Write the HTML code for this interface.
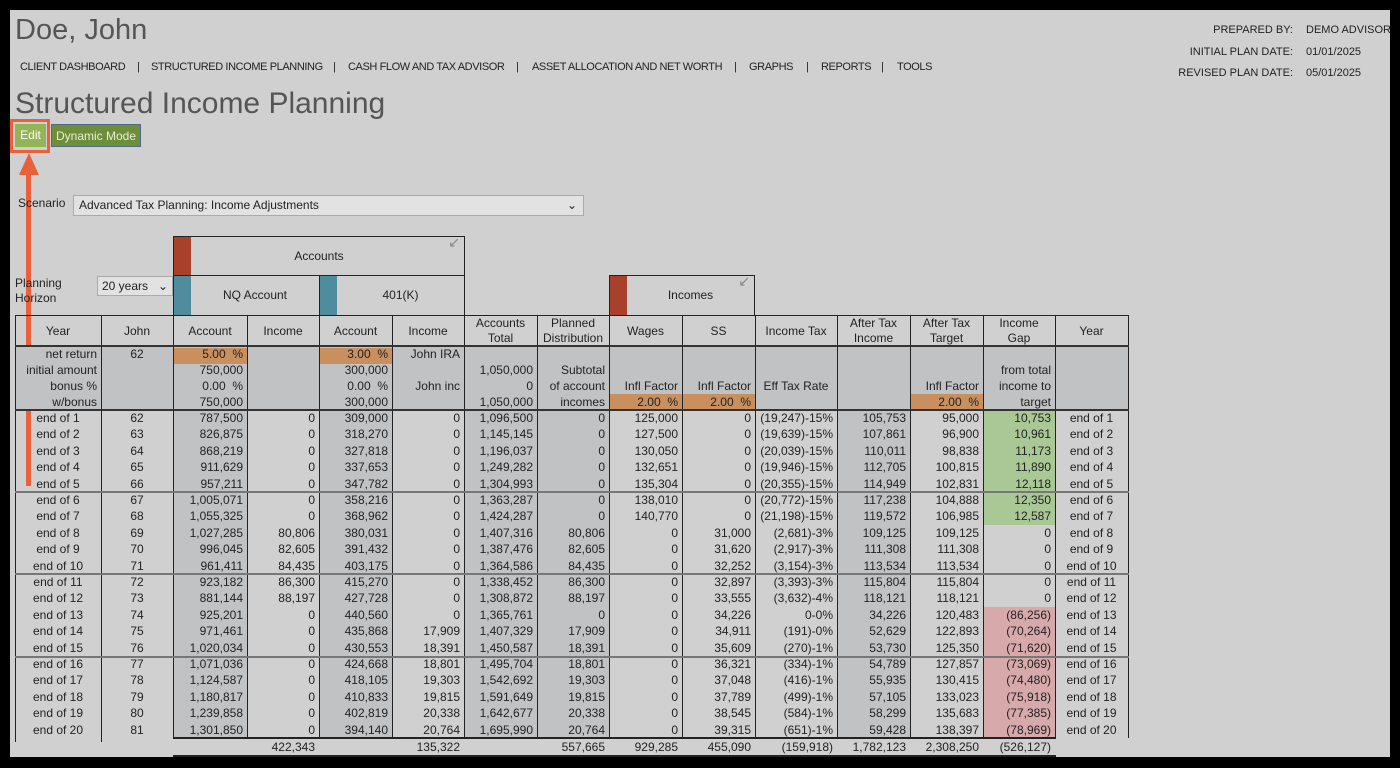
<!DOCTYPE html>
<html><head><meta charset="utf-8">
<style>
*{margin:0;padding:0;box-sizing:border-box}
body{width:1400px;height:768px;background:#000;position:relative;overflow:hidden;font-family:"Liberation Sans",sans-serif;color:#222}
#p{position:absolute;left:10px;top:10px;width:1380px;height:747px;background:#d0d0d0}
.a{position:absolute;white-space:nowrap}
.c{position:absolute;font-size:12px;line-height:16px;white-space:nowrap;overflow:hidden}
.nav{font-size:11px;top:61px;letter-spacing:-0.4px}
</style></head><body>
<div id="p"></div>
<div class="a" style="left:15px;top:14px;font-size:29px;color:#555">Doe, John</div>
<div class="a nav" style="left:20px">CLIENT DASHBOARD</div>
<div class="a nav" style="left:137px">|</div>
<div class="a nav" style="left:151px">STRUCTURED INCOME PLANNING</div>
<div class="a nav" style="left:333px">|</div>
<div class="a nav" style="left:348px">CASH FLOW AND TAX ADVISOR</div>
<div class="a nav" style="left:516px">|</div>
<div class="a nav" style="left:532px">ASSET ALLOCATION AND NET WORTH</div>
<div class="a nav" style="left:734px">|</div>
<div class="a nav" style="left:749px">GRAPHS</div>
<div class="a nav" style="left:806px">|</div>
<div class="a nav" style="left:821px">REPORTS</div>
<div class="a nav" style="left:881px">|</div>
<div class="a nav" style="left:897px">TOOLS</div>
<div class="a" style="right:107px;top:20px;font-size:11px;text-align:right;line-height:21.5px">PREPARED BY:<br>INITIAL PLAN DATE:<br>REVISED PLAN DATE:</div>
<div class="a" style="left:1306px;top:20px;font-size:11px;line-height:21.5px">DEMO ADVISOR<br>01/01/2025<br>05/01/2025</div>
<div class="a" style="left:15px;top:87px;font-size:30px;color:#555">Structured Income Planning</div>
<div class="a" style="left:10px;top:119px;width:40px;height:34px;border:3px solid #e8603c"></div>
<div class="a" style="left:15px;top:124px;width:31px;height:23px;background:#93b557;color:#fff;font-size:12px;line-height:23px;text-align:center">Edit</div>
<div class="a" style="left:51px;top:124px;width:90px;height:23px;background:#6f8e3a;color:#e8eed8;font-size:12px;line-height:23px;text-align:center;border:1px solid #4e6a8a">Dynamic Mode</div>
<div class="a" style="left:26px;top:170px;width:5px;height:316px;background:#e8603c"></div>
<div class="a" style="left:19px;top:153px;width:0;height:0;border-left:10px solid transparent;border-right:10px solid transparent;border-bottom:22px solid #e8603c"></div>
<div class="a" style="left:18px;top:196px;font-size:12px">Scenario</div>
<div class="a" style="left:73px;top:195px;width:511px;height:21px;background:#e2e2e2;border:1px solid #aaa;font-size:12px;line-height:19px;padding-left:5px">Advanced Tax Planning: Income Adjustments<span style="position:absolute;right:6px">&#8964;</span></div>
<div class="a" style="left:15px;top:276px;font-size:12px;line-height:15px">Planning<br>Horizon</div>
<div class="a" style="left:97px;top:276px;width:76px;height:20px;background:#e2e2e2;border:1px solid #aaa;font-size:12px;line-height:18px;padding-left:4px">20 years<span style="position:absolute;right:4px">&#8964;</span></div>
<div class="a" style="left:173px;top:236px;width:292px;height:40px;border:1px solid #222;font-size:12px;line-height:38px;text-align:center"><span style="position:absolute;left:0;top:0;width:17px;height:38px;background:#a8402c"></span>Accounts<span style="position:absolute;right:4px;top:-14px;color:#888;font-size:14px">&#8601;</span></div>
<div class="a" style="left:173px;top:275px;width:147px;height:41px;border:1px solid #222;font-size:12px;line-height:39px;text-align:center;padding-left:17px"><span style="position:absolute;left:0;top:0;width:17px;height:39px;background:#4e8c9e"></span>NQ Account</div>
<div class="a" style="left:319px;top:275px;width:146px;height:41px;border:1px solid #222;font-size:12px;line-height:39px;text-align:center;padding-left:17px"><span style="position:absolute;left:0;top:0;width:17px;height:39px;background:#4e8c9e"></span>401(K)</div>
<div class="a" style="left:609px;top:275px;width:146px;height:41px;border:1px solid #222;font-size:12px;line-height:39px;text-align:center;padding-left:17px"><span style="position:absolute;left:0;top:0;width:17px;height:39px;background:#a8402c"></span>Incomes<span style="position:absolute;right:4px;top:-14px;color:#888;font-size:14px">&#8601;</span></div>
<div id="g"></div>
<script>
var X=[15,101,173,247,319,392,464,537,609,682,755,837,910,983,1055,1128];
var g=document.getElementById('g'),h='';
function R(l,t,w,ht,bg){h+='<div class="a" style="left:'+l+'px;top:'+t+'px;width:'+w+'px;height:'+ht+'px;background:'+bg+'"></div>';}
function T(i,t,s,al,st){var w=X[i+1]-X[i];h+='<div class="c" style="left:'+X[i]+'px;top:'+t+'px;width:'+w+'px;text-align:'+(al||'right')+';padding:0 4px;'+(st||'')+'">'+s+'</div>';}
var SH='#c1c2c4';
R(15,346,1113,64,SH);
[2,4,6,7,11].forEach(function(i){R(X[i],410,X[i+1]-X[i],328,SH);});
[[2,348],[4,348],[8,394],[9,394],[12,394]].forEach(function(a){R(X[a[0]]+1,a[1],X[a[0]+1]-X[a[0]]-1,16,'#c98f5e');});
var Y0=410,RH=16.4;
for(var r=0;r<20;r++){var y=Y0+r*RH;var c=r<7?'#a9c895':(r>=12?'#d7a9aa':null);if(c)R(X[13]+1,y,X[14]-X[13]-1,RH+0.5,c);}
var hd=['Year','John','Account','Income','Account','Income','Accounts<br>Total','Planned<br>Distribution','Wages','SS','Income Tax','After Tax<br>Income','After Tax<br>Target','Income<br>Gap','Year'];
hd.forEach(function(s,i){var two=s.indexOf('<br>')>0;h+='<div class="c" style="left:'+X[i]+'px;top:'+(two?315:323)+'px;width:'+(X[i+1]-X[i])+'px;text-align:center;line-height:14.5px;padding-top:1px">'+s+'</div>';});
var py=346;
T(0,py,'net return');T(0,py+16,'initial amount');T(0,py+32,'bonus %');T(0,py+48,'w/bonus');
T(1,py,'62','center');
T(2,py,'5.00&nbsp;&nbsp;%');T(2,py+16,'750,000');T(2,py+32,'0.00&nbsp;&nbsp;%');T(2,py+48,'750,000');
T(4,py,'3.00&nbsp;&nbsp;%');T(4,py+16,'300,000');T(4,py+32,'0.00&nbsp;&nbsp;%');T(4,py+48,'300,000');
T(5,py,'John IRA');T(5,py+32,'John inc');
T(6,py+16,'1,050,000');T(6,py+32,'0');T(6,py+48,'1,050,000');
T(7,py+16,'Subtotal');T(7,py+32,'of account');T(7,py+48,'incomes');
T(8,py+32,'Infl Factor');T(8,py+48,'2.00&nbsp;&nbsp;%');T(9,py+32,'Infl Factor');T(9,py+48,'2.00&nbsp;&nbsp;%');
T(10,py+32,'Eff Tax Rate','center');T(12,py+32,'Infl Factor');T(12,py+48,'2.00&nbsp;&nbsp;%');
T(13,py+16,'from total');T(13,py+32,'income to');T(13,py+48,'target');
var D=[
"62|787,500|0|309,000|0|1,096,500|0|125,000|0|(19,247)-15%|105,753|95,000|10,753",
"63|826,875|0|318,270|0|1,145,145|0|127,500|0|(19,639)-15%|107,861|96,900|10,961",
"64|868,219|0|327,818|0|1,196,037|0|130,050|0|(20,039)-15%|110,011|98,838|11,173",
"65|911,629|0|337,653|0|1,249,282|0|132,651|0|(19,946)-15%|112,705|100,815|11,890",
"66|957,211|0|347,782|0|1,304,993|0|135,304|0|(20,355)-15%|114,949|102,831|12,118",
"67|1,005,071|0|358,216|0|1,363,287|0|138,010|0|(20,772)-15%|117,238|104,888|12,350",
"68|1,055,325|0|368,962|0|1,424,287|0|140,770|0|(21,198)-15%|119,572|106,985|12,587",
"69|1,027,285|80,806|380,031|0|1,407,316|80,806|0|31,000|(2,681)-3%|109,125|109,125|0",
"70|996,045|82,605|391,432|0|1,387,476|82,605|0|31,620|(2,917)-3%|111,308|111,308|0",
"71|961,411|84,435|403,175|0|1,364,586|84,435|0|32,252|(3,154)-3%|113,534|113,534|0",
"72|923,182|86,300|415,270|0|1,338,452|86,300|0|32,897|(3,393)-3%|115,804|115,804|0",
"73|881,144|88,197|427,728|0|1,308,872|88,197|0|33,555|(3,632)-4%|118,121|118,121|0",
"74|925,201|0|440,560|0|1,365,761|0|0|34,226|0-0%|34,226|120,483|(86,256)",
"75|971,461|0|435,868|17,909|1,407,329|17,909|0|34,911|(191)-0%|52,629|122,893|(70,264)",
"76|1,020,034|0|430,553|18,391|1,450,587|18,391|0|35,609|(270)-1%|53,730|125,350|(71,620)",
"77|1,071,036|0|424,668|18,801|1,495,704|18,801|0|36,321|(334)-1%|54,789|127,857|(73,069)",
"78|1,124,587|0|418,105|19,303|1,542,692|19,303|0|37,048|(416)-1%|55,935|130,415|(74,480)",
"79|1,180,817|0|410,833|19,815|1,591,649|19,815|0|37,789|(499)-1%|57,105|133,023|(75,918)",
"80|1,239,858|0|402,819|20,338|1,642,677|20,338|0|38,545|(584)-1%|58,299|135,683|(77,385)",
"81|1,301,850|0|394,140|20,764|1,695,990|20,764|0|39,315|(651)-1%|59,428|138,397|(78,969)"];
D.forEach(function(l,r){var y=Y0+r*RH;var v=l.split('|');T(0,y,'end of '+(r+1),'center');T(1,y,v[0],'center');
for(var i=1;i<v.length;i++)T(i+1,y,v[i]);T(14,y,'end of '+(r+1),'center');});
var tt={3:'422,343',5:'135,322',7:'557,665',8:'929,285',9:'455,090',10:'(159,918)',11:'1,782,123',12:'2,308,250',13:'(526,127)'};
for(var k in tt)T(+k,739,tt[k]);
X.forEach(function(x,i){var bot=(i==0||i==1)?742:738;R(x,315,1,bot-315,'#222');});
R(15,315,1114,1,'#222');R(15,345,1114,2,'#333');R(15,409,1114,2,'#333');
[491,573,656].forEach(function(y){R(15,y,1114,2,'#777');});
R(173,737,883,2,'#222');R(173,755,883,2,'#222');
g.innerHTML=h;
</script>
</body></html>
